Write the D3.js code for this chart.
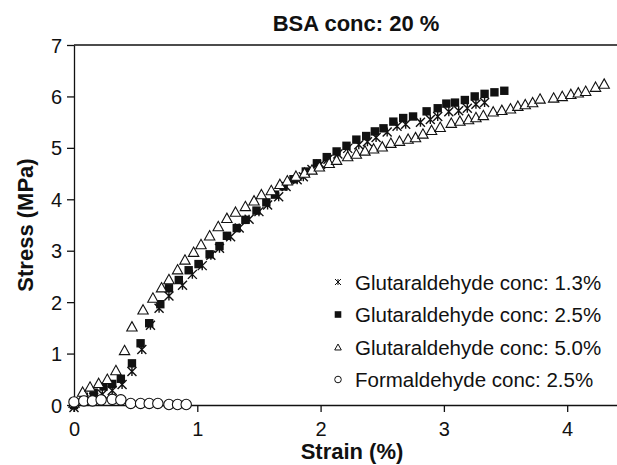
<!DOCTYPE html>
<html>
<head>
<meta charset="utf-8">
<script src="https://cdn.jsdelivr.net/npm/d3@7"></script>
<style>
  body { margin: 0; background: #fff; }
  svg text { font-family: "Liberation Sans", Arial, sans-serif; fill: #111; }
  .axis path, .axis line { stroke: #111; stroke-width: 1.3; }
</style>
</head>
<body>
<svg id="chart" width="617" height="465"></svg>
<script>
// strain (%), stress (MPa)
const glut13X = [0, 0.08, 0.16, 0.23, 0.31, 0.39, 0.47, 0.55, 0.62, 0.69, 0.77, 0.88, 0.96, 1.04, 1.11, 1.18, 1.27, 1.34, 1.42, 1.50, 1.57, 1.66, 1.72, 1.81, 1.86, 1.93, 2.00, 2.06, 2.14, 2.22, 2.31, 2.38, 2.45, 2.54, 2.62, 2.69, 2.81, 2.89, 2.95, 3.04, 3.12, 3.19, 3.26, 3.33];
const glut13Y = [-0.05, 0.10, 0.15, 0.21, 0.28, 0.40, 0.65, 1.08, 1.55, 1.88, 2.12, 2.33, 2.54, 2.71, 2.91, 3.05, 3.27, 3.44, 3.61, 3.76, 3.89, 4.05, 4.25, 4.38, 4.44, 4.58, 4.68, 4.78, 4.88, 4.99, 5.06, 5.12, 5.20, 5.31, 5.42, 5.46, 5.50, 5.55, 5.61, 5.70, 5.72, 5.77, 5.85, 5.88];

const glut25X = [0, 0.08, 0.16, 0.24, 0.31, 0.38, 0.47, 0.54, 0.61, 0.70, 0.77, 0.85, 0.93, 1.01, 1.10, 1.18, 1.24, 1.32, 1.39, 1.48, 1.56, 1.63, 1.70, 1.78, 1.88, 1.97, 2.05, 2.13, 2.21, 2.29, 2.37, 2.44, 2.51, 2.59, 2.67, 2.75, 2.86, 2.95, 3.02, 3.09, 3.17, 3.25, 3.33, 3.41, 3.49];
const glut25Y = [0, 0.16, 0.24, 0.36, 0.41, 0.51, 0.81, 1.20, 1.59, 1.96, 2.27, 2.43, 2.62, 2.74, 2.93, 3.09, 3.29, 3.44, 3.60, 3.78, 3.94, 4.09, 4.25, 4.39, 4.54, 4.70, 4.82, 4.93, 5.04, 5.16, 5.23, 5.32, 5.38, 5.51, 5.58, 5.61, 5.71, 5.77, 5.86, 5.88, 5.93, 6.00, 6.05, 6.08, 6.11];

const glut50X = [0, 0.07, 0.13, 0.20, 0.27, 0.34, 0.41, 0.47, 0.56, 0.64, 0.71, 0.77, 0.84, 0.90, 0.97, 1.03, 1.10, 1.17, 1.24, 1.31, 1.39, 1.46, 1.52, 1.60, 1.67, 1.73, 1.80, 1.87, 1.93, 1.99, 2.07, 2.13, 2.22, 2.29, 2.36, 2.43, 2.50, 2.57, 2.64, 2.71, 2.77, 2.83, 2.90, 2.97, 3.06, 3.13, 3.20, 3.26, 3.32, 3.40, 3.47, 3.54, 3.60, 3.66, 3.72, 3.78, 3.89, 3.96, 4.03, 4.09, 4.15, 4.23, 4.30];
const glut50Y = [0.05, 0.26, 0.36, 0.43, 0.51, 0.68, 1.07, 1.53, 1.86, 2.09, 2.29, 2.45, 2.64, 2.83, 2.98, 3.13, 3.30, 3.48, 3.64, 3.76, 3.87, 3.98, 4.10, 4.18, 4.30, 4.37, 4.46, 4.52, 4.58, 4.64, 4.71, 4.77, 4.84, 4.89, 4.95, 4.99, 5.03, 5.10, 5.14, 5.18, 5.21, 5.28, 5.35, 5.41, 5.49, 5.53, 5.56, 5.60, 5.64, 5.71, 5.74, 5.77, 5.82, 5.85, 5.89, 5.96, 5.98, 6.01, 6.05, 6.08, 6.11, 6.19, 6.25];

const formX = [0, 0.08, 0.15, 0.22, 0.31, 0.38, 0.46, 0.54, 0.61, 0.68, 0.77, 0.84, 0.91];
const formY = [0.06, 0.08, 0.08, 0.10, 0.11, 0.10, 0.03, 0.03, 0.03, 0.03, 0.01, 0.01, 0.01];

const xTicks = [0, 1, 2, 3, 4];
const yTicks = [0, 1, 2, 3, 4, 5, 6, 7];
const seriesNames = ["Glutaraldehyde conc: 1.3%", "Glutaraldehyde conc: 2.5%", "Glutaraldehyde conc: 5.0%", "Formaldehyde conc: 2.5%"];

const svg = d3.select("svg#chart");

const x = d3.scaleLinear().domain([0, 4.4]).range([74, 616.5]);
const y = d3.scaleLinear().domain([0, 7]).range([405, 45]);

// marker paths, centred on 0,0
const markers = {
  star: function(s) {
    return "M" + (-s) + "," + (-s) + "L" + s + "," + s +
      "M" + (-s) + "," + s + "L" + s + "," + (-s) +
      "M0," + (-s) + "L0," + s;
  },
  square: function(s) {
    return "M" + (-s) + "," + (-s) + "h" + (2 * s) + "v" + (2 * s) + "h" + (-2 * s) + "Z";
  },
  triangle: function(s) {
    return "M0," + (-s * 0.9) + "L" + s + "," + (s * 0.9) + "L" + (-s) + "," + (s * 0.9) + "Z";
  },
  circle: function(s) {
    return "M" + s + ",0A" + s + "," + s + " 0 1,1 " + (-s) + ",0A" + s + "," + s + " 0 1,1 " + s + ",0Z";
  }
};

const series = [
  {name: seriesNames[0], xs: glut13X, ys: glut13Y, shape: "star", size: 4.5, fill: "none", sw: 1.4},
  {name: seriesNames[1], xs: glut25X, ys: glut25Y, shape: "square", size: 4.2, fill: "#111", sw: 0},
  {name: seriesNames[2], xs: glut50X, ys: glut50Y, shape: "triangle", size: 5.2, fill: "#fff", sw: 1.1},
  {name: seriesNames[3], xs: formX, ys: formY, shape: "circle", size: 5.2, fill: "#fff", sw: 1.1}
];

// axes
svg.append("g").attr("class", "axis")
  .attr("transform", translate(0, 405))
  .call(d3.axisBottom(x).tickValues(xTicks).tickSize(7).tickSizeOuter(0).tickFormat(d3.format("d")))
  .call(g => g.selectAll("text").attr("font-size", 20).attr("dy", "0").attr("y", 31));

svg.append("g").attr("class", "axis")
  .attr("transform", translate(74, 0))
  .call(d3.axisLeft(y).tickValues(yTicks).tickSize(7).tickSizeOuter(0).tickFormat(d3.format("d")))
  .call(g => g.selectAll("text").attr("font-size", 20).attr("x", -12).attr("dy", "0.35em"));

// top frame line
svg.append("line").attr("x1", 74).attr("x2", 617).attr("y1", y(7)).attr("y2", y(7))
  .attr("stroke", "#111").attr("stroke-width", 1.3);

// data
series.forEach(function(s) {
  const pts = s.xs.map((v, i) => [v, s.ys[i]]);
  svg.append("g").selectAll("path").data(pts).enter().append("path")
    .attr("transform", d => translate(x(d[0]), y(d[1])))
    .attr("d", markers[s.shape](s.size))
    .attr("fill", s.fill)
    .attr("stroke", s.sw ? "#111" : "none")
    .attr("stroke-width", s.sw);
});

// titles
svg.append("text").attr("x", 356).attr("y", 31).attr("text-anchor", "middle")
  .attr("font-size", 22).attr("font-weight", "bold").text("BSA conc: 20 %");
svg.append("text").attr("x", 352).attr("y", 459).attr("text-anchor", "middle")
  .attr("font-size", 22).attr("font-weight", "bold").text("Strain (%)");
svg.append("text").attr("transform", translate(33, 225) + " rotate(-90)").attr("text-anchor", "middle")
  .attr("font-size", 22).attr("font-weight", "bold").text("Stress (MPa)");

// legend
const legendY = [282, 314.5, 347, 379.5];
const legend = svg.append("g").selectAll("g").data(series).enter().append("g")
  .attr("transform", (d, i) => translate(338, legendY[i]));
legend.append("path")
  .attr("d", d => markers[d.shape](d.shape === "star" ? 3 : 3.3))
  .attr("fill", d => d.fill)
  .attr("stroke", d => d.sw ? "#111" : "none")
  .attr("stroke-width", d => d.sw ? 1 : 0);
legend.append("text").attr("x", 17).attr("y", 7.5).attr("font-size", 20.5).text(d => d.name);

function translate(tx, ty) {
  return "translate(" + String(tx) + "," + String(ty) + ")";
}
</script>
</body>
</html>
